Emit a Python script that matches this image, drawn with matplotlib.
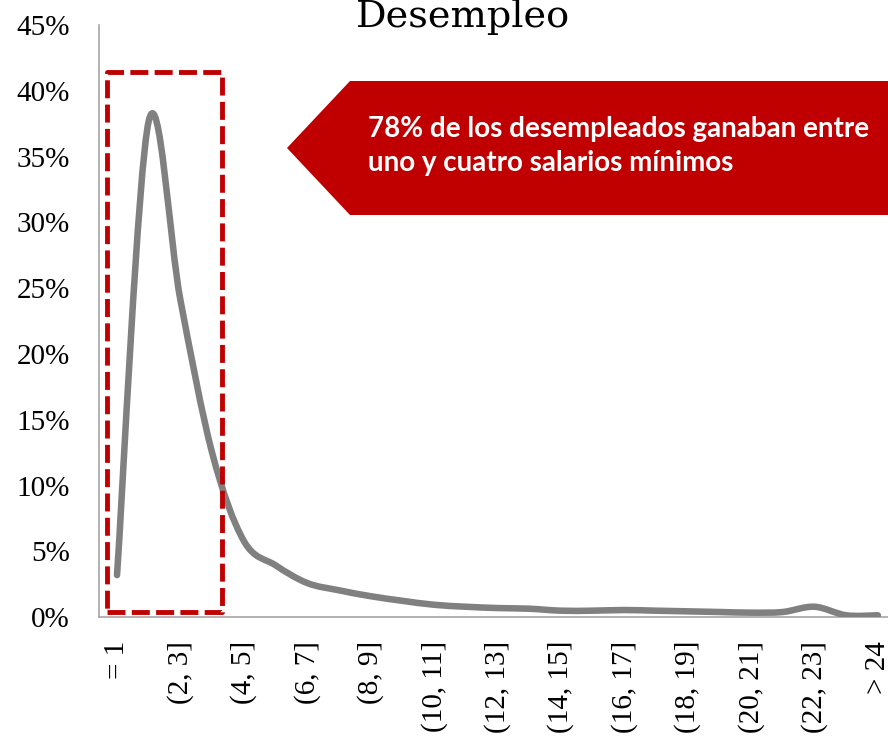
import numpy as np
import matplotlib
matplotlib.use("Agg")
import matplotlib.pyplot as plt
from matplotlib.path import Path
from matplotlib.patches import PathPatch, Rectangle, Polygon
from matplotlib.ticker import FuncFormatter

# Income brackets (in minimum wages) and share of the unemployed, %
categories = ["= 1"] + [f"({i}, {i + 1}]" for i in range(1, 24)] + ["> 24"]
share = [3.2, 37.7, 24.1, 12.5, 5.8, 3.95, 2.6, 2.05, 1.6, 1.25, 0.95, 0.8,
         0.7, 0.65, 0.5, 0.5, 0.55, 0.5, 0.45, 0.4, 0.35, 0.4, 0.8, 0.15, 0.15]
y_ticks = list(range(0, 50, 5))

RED = "#C00000"
GRAY = "#808080"


def smooth_path(x, y):
    """Excel-style smoothed line: Catmull-Rom segments as cubic Beziers."""
    n = len(x)
    verts = [(x[0], y[0])]
    codes = [Path.MOVETO]
    for i in range(n - 1):
        xp, yp = (x[i - 1], y[i - 1]) if i > 0 else (x[i], y[i])
        xn, yn = (x[i + 2], y[i + 2]) if i + 2 < n else (x[i + 1], y[i + 1])
        c1 = (x[i] + (x[i + 1] - xp) / 6, y[i] + (y[i + 1] - yp) / 6)
        c2 = (x[i + 1] - (xn - x[i]) / 6, y[i + 1] - (yn - y[i]) / 6)
        verts += [c1, c2, (x[i + 1], y[i + 1])]
        codes += [Path.CURVE4] * 3
    return Path(verts, codes)


fig = plt.figure(figsize=(8.88, 7.38), dpi=100)
ax = fig.add_axes([0.1115, 0.1636, 0.8885, 0.8026])

xs = np.arange(len(categories))
ax.add_patch(PathPatch(smooth_path(xs, share), fill=False, edgecolor=GRAY,
                       linewidth=4.7, capstyle="round", joinstyle="round",
                       zorder=3))

# dashed box around the first four brackets
ax.add_patch(Rectangle((-0.32, 0.4), 3.63, 41.0, fill=False, edgecolor=RED,
                       linewidth=3.5, linestyle=(0, (3.7, 1.3)),
                       joinstyle="round", zorder=4, clip_on=False))

ax.set_xlim(-0.568, 24.32)
ax.set_ylim(0, 45)
ax.set_yticks(y_ticks)
ax.yaxis.set_major_formatter(FuncFormatter(lambda v, p: f"{int(v)}%"))
ax.set_xticks(xs[::2])
ax.set_xticklabels(categories[::2], rotation=90, va="top", ha="center")

for lab in ax.get_xticklabels() + ax.get_yticklabels():
    lab.set_fontfamily("Liberation Serif")
    lab.set_fontsize(21)
ax.tick_params(axis="both", length=0)
ax.tick_params(axis="x", pad=17)
ax.tick_params(axis="y", pad=21)

for s in ["top", "right"]:
    ax.spines[s].set_visible(False)
for s in ["left", "bottom"]:
    ax.spines[s].set_color("#A6A6A6")
    ax.spines[s].set_linewidth(1.2)

# title
fig.text(463 / 888, 1 - 27 / 738, "Desempleo", ha="center", va="baseline",
         fontsize=27.5, family="DejaVu Serif", color="black")

# red arrow callout
W, H = 888, 738
pts = [(287, 148), (350, 81), (888, 81), (888, 215), (350, 215)]
fig.patches.append(Polygon([(px / W, 1 - py / H) for px, py in pts],
                           closed=True, facecolor=RED, edgecolor="none",
                           transform=fig.transFigure, figure=fig))
fig.text(368 / W, 1 - 137 / H, "78% de los desempleados ganaban entre",
         color="white", fontsize=20, fontweight="bold", family="Lato",
         va="baseline", ha="left")
fig.text(368 / W, 1 - 171 / H, "uno y cuatro salarios mínimos",
         color="white", fontsize=20, fontweight="bold", family="Lato",
         va="baseline", ha="left")

fig.savefig("out.png", dpi=100)
